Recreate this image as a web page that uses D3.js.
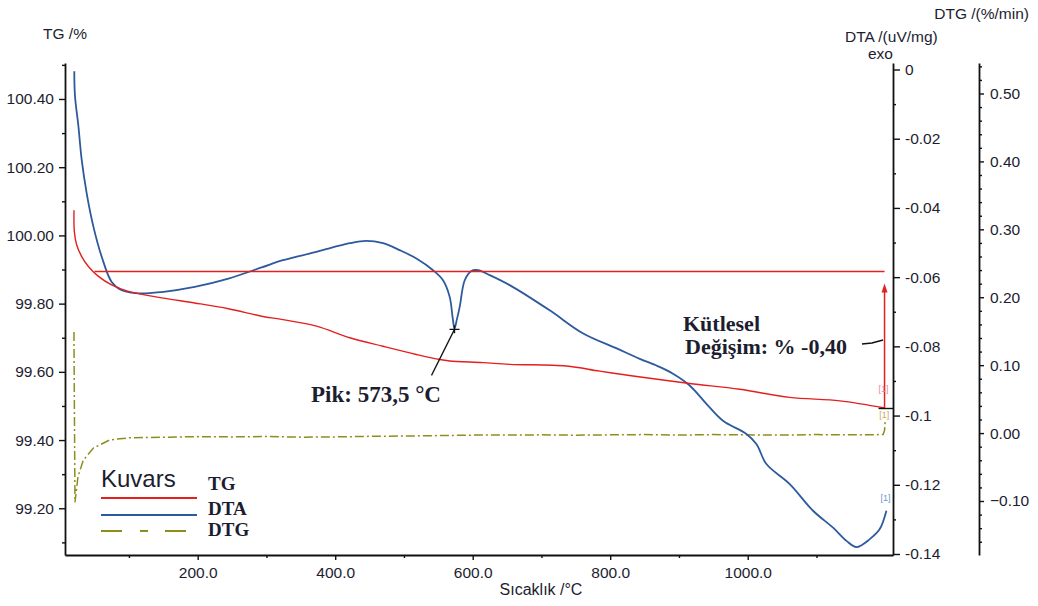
<!DOCTYPE html>
<html>
<head>
<meta charset="utf-8">
<script src="https://cdn.jsdelivr.net/npm/d3@7/dist/d3.min.js"></script>
<style>
  html, body { margin: 0; padding: 0; background: #fff; }
  svg { display: block; }
  .sans { font-family: "Liberation Sans", Arial, sans-serif; }
  .serif { font-family: "Liberation Serif", "Times New Roman", serif; }
</style>
</head>
<body>
<svg id="chart" width="1038" height="606"></svg>
<script>
// Thermal analysis of quartz (Kuvars): TG, DTA and DTG against temperature

// TG curve: temperature (°C) and mass (%)
const tgTemp = [20.1, 20.6, 24, 31.3, 41, 55.6, 74.9, 99.2, 147.6, 195.6, 244.7, 293.1, 324, 372.7, 421, 469.5, 518, 552, 566.5, 615, 653.8, 736.3, 784.7, 833.2, 915.6, 988.4, 1061, 1134, 1199];
const tgMass = [100.074, 100.011, 99.972, 99.938, 99.909, 99.880, 99.855, 99.836, 99.817, 99.802, 99.785, 99.763, 99.753, 99.734, 99.700, 99.675, 99.651, 99.636, 99.632, 99.627, 99.622, 99.617, 99.602, 99.588, 99.566, 99.549, 99.525, 99.515, 99.494];

// DTA curve: temperature (°C) and signal (uV/mg), exo up
const dtaTemp = [20.5, 21.5, 26.5, 31.3, 38.5, 48.3, 60.4, 74.9, 89.5, 113.7, 147.6, 195.6, 244.7, 293.1, 324, 372.7, 421.1, 445.4, 469.5, 493.8, 518.1, 542.3, 556.8, 566.5, 571, 573.5, 577, 581.1, 588.4, 598.1, 607.7, 624.7, 653.8, 712, 760, 809.5, 843, 869, 891.3, 915.6, 939.9, 964, 998.1, 1012.6, 1027.2, 1061.1, 1095, 1124.1, 1143.6, 1158.1, 1177.5, 1192, 1201.7];
const dtaSignal = [-0.0005, -0.0076, -0.0164, -0.0261, -0.0357, -0.0454, -0.0541, -0.0614, -0.0638, -0.0647, -0.0643, -0.0628, -0.0604, -0.0572, -0.0551, -0.0527, -0.0502, -0.0495, -0.0502, -0.0522, -0.0546, -0.0580, -0.0609, -0.0657, -0.0720, -0.0748, -0.0722, -0.0686, -0.0609, -0.0582, -0.0580, -0.0594, -0.0623, -0.0696, -0.0762, -0.0806, -0.0836, -0.0857, -0.0879, -0.0913, -0.0966, -0.1015, -0.1053, -0.1082, -0.1140, -0.1198, -0.1275, -0.1324, -0.1362, -0.1380, -0.1357, -0.1328, -0.1275];

// DTG curve: temperature (°C) and rate (%/min)
const dtgTemp = [20, 21.5, 25.9, 33.6, 48.3, 72.3, 100, 150, 200, 250, 300, 350, 400, 450, 500, 550, 600, 650, 700, 750, 800, 850, 900, 950, 1000, 1050, 1100, 1150, 1197, 1199, 1200];
const dtgRate = [0.149, -0.102, -0.064, -0.040, -0.022, -0.010, -0.0070, -0.0062, -0.0052, -0.0056, -0.0050, -0.0060, -0.0056, -0.0048, -0.0044, -0.0037, -0.0030, -0.0030, -0.0026, -0.0031, -0.0026, -0.0022, -0.0030, -0.0022, -0.0026, -0.0030, -0.0022, -0.0026, -0.0022, 0.004, 0.019];

// Axis ticks
const tempTicks = [200, 400, 600, 800, 1000];
const tempMinorTicks = [100, 300, 500, 700, 900, 1100];
const tgTicks = [99.2, 99.4, 99.6, 99.8, 100.0, 100.2, 100.4];
const tgMinorTicks = [99.1, 99.3, 99.5, 99.7, 99.9, 100.1, 100.3, 100.5];
const dtaTicks = [0, -0.02, -0.04, -0.06, -0.08, -0.1, -0.12, -0.14];
const dtaTickLabels = ["0", "-0.02", "-0.04", "-0.06", "-0.08", "-0.1", "-0.12", "-0.14"];
const dtaMinorTicks = [-0.01, -0.03, -0.05, -0.07, -0.09, -0.11, -0.13];
const dtgTicks = [0.5, 0.4, 0.3, 0.2, 0.1, 0.0, -0.1];
const dtgMinorTicks = [0.54, 0.52, 0.48, 0.46, 0.44, 0.42, 0.38, 0.36, 0.34, 0.32, 0.28, 0.26, 0.24, 0.22, 0.18, 0.16, 0.14, 0.12, 0.08, 0.06, 0.04, 0.02, -0.02, -0.04, -0.06, -0.08, -0.12, -0.14, -0.16];

// Annotated results
const peakTemp = 573.5;      // DTA endothermic peak (alpha-beta quartz)
const massChange = -0.40;    // total TG mass change, %

const colors = { tg: "#e3201f", dta: "#2d5a9c", dtg: "#8e8e1c", text: "#1d1d30" };

const svg = d3.select("#chart");
const plot = { left: 65, right: 893, top: 63, bottom: 555 };

const x = d3.scaleLinear().domain([7, 1211.3]).range([plot.left, plot.right]);
const yTG = d3.scaleLinear().domain([99.063, 100.5055]).range([plot.bottom, plot.top]);
const yDTA = d3.scaleLinear().domain([-0.14029, 0.00188]).range([plot.bottom, plot.top]);
const yDTG = d3.scaleLinear().domain([-0.1795, 0.5449]).range([plot.bottom, plot.top]);

const dtgAxisX = 979;

function styleAxis(g, showLine) {
  g.selectAll("text").attr("class", "sans").attr("font-size", 15.5).attr("fill", colors.text);
  g.selectAll("line").attr("stroke", "#111").attr("stroke-width", 1.4);
  g.select(".domain").attr("stroke", showLine ? "#111" : "none").attr("stroke-width", 1.8);
  g.attr("font-family", null);
}

// Temperature axis
svg.append("g").attr("transform", `translate(0,${plot.bottom})`)
  .call(d3.axisBottom(x).tickValues(tempMinorTicks).tickSize(3).tickSizeOuter(0).tickFormat(""))
  .call(g => styleAxis(g, false));
svg.append("g").attr("transform", `translate(0,${plot.bottom})`)
  .call(d3.axisBottom(x).tickValues(tempTicks).tickSize(5).tickSizeOuter(0).tickPadding(7).tickFormat(d3.format(".1f")))
  .call(g => styleAxis(g, true));

// TG axis (left)
svg.append("g").attr("transform", `translate(${plot.left},0)`)
  .call(d3.axisLeft(yTG).tickValues(tgMinorTicks).tickSize(3).tickSizeOuter(0).tickFormat(""))
  .call(g => styleAxis(g, false));
svg.append("g").attr("transform", `translate(${plot.left},0)`)
  .call(d3.axisLeft(yTG).tickValues(tgTicks).tickSize(6).tickSizeOuter(0).tickPadding(5).tickFormat(d3.format(".2f")))
  .call(g => styleAxis(g, true));

// DTA axis (right, on the frame)
svg.append("g").attr("transform", `translate(${plot.right},0)`)
  .call(d3.axisRight(yDTA).tickValues(dtaMinorTicks).tickSize(3).tickSizeOuter(0).tickFormat(""))
  .call(g => styleAxis(g, false));
svg.append("g").attr("transform", `translate(${plot.right},0)`)
  .call(d3.axisRight(yDTA).tickValues(dtaTicks).tickSize(7).tickSizeOuter(0).tickPadding(5)
    .tickFormat((d, i) => dtaTickLabels[i]))
  .call(g => styleAxis(g, true));

// DTG axis (far right)
svg.append("g").attr("transform", `translate(${dtgAxisX},0)`)
  .call(d3.axisRight(yDTG).tickValues(dtgMinorTicks).tickSize(3).tickSizeOuter(0).tickFormat(""))
  .call(g => styleAxis(g, false));
svg.append("g").attr("transform", `translate(${dtgAxisX},0)`)
  .call(d3.axisRight(yDTG).tickValues(dtgTicks).tickSize(5).tickSizeOuter(0).tickPadding(6).tickFormat(d3.format(".2f")))
  .call(g => styleAxis(g, true));

// Axis titles
const title = (tx, ty, s, anchor) => svg.append("text").attr("class", "sans")
  .attr("x", tx).attr("y", ty).attr("font-size", 15.5).attr("fill", colors.text)
  .attr("text-anchor", anchor || "start").text(s);
title(43, 39, "TG /%");
title(845, 42, "DTA /(uV/mg)");
title(893, 59, "exo", "end");
title(1029, 19, "DTG /(%/min)", "end");
svg.append("text").attr("class", "sans").attr("x", 541).attr("y", 595)
  .attr("font-size", 16).attr("fill", colors.text).attr("text-anchor", "middle").text("Sıcaklık /°C");

// Curves
const zip = (a, b) => a.map((v, i) => [v, b[i]]);
const tgData = zip(tgTemp, tgMass);
const dtaData = zip(dtaTemp, dtaSignal);
const dtgData = zip(dtgTemp, dtgRate);

const smooth = d3.curveCatmullRom.alpha(0.5);
const plotArea = svg.append("g");

plotArea.append("path").datum(dtgData)
  .attr("fill", "none").attr("stroke", colors.dtg).attr("stroke-width", 1.5)
  .attr("stroke-dasharray", "9,3,2,3")
  .attr("d", d3.line().x(d => x(d[0])).y(d => yDTG(d[1])));

plotArea.append("path").datum(dtaData)
  .attr("fill", "none").attr("stroke", colors.dta).attr("stroke-width", 1.8)
  .attr("d", d3.line().curve(smooth).x(d => x(d[0])).y(d => yDTA(d[1])));

plotArea.append("path").datum(tgData)
  .attr("fill", "none").attr("stroke", colors.tg).attr("stroke-width", 1.4)
  .attr("d", d3.line().curve(smooth).x(d => x(d[0])).y(d => yTG(d[1])));

// Mass change: reference level and arrow
const tgEnd = tgData[tgData.length - 1];
const tgLevel = tgEnd[1] - massChange;
const levelStart = tgData.find(d => d[1] <= tgLevel) || tgData[0];
plotArea.append("line")
  .attr("x1", x(levelStart[0]) - 4).attr("x2", x(tgEnd[0]))
  .attr("y1", yTG(tgLevel)).attr("y2", yTG(tgLevel))
  .attr("stroke", colors.tg).attr("stroke-width", 1.5);

const arrowX = x(tgEnd[0]);
const arrowTip = yTG(tgLevel) + 12;
plotArea.append("line")
  .attr("x1", arrowX).attr("x2", arrowX)
  .attr("y1", yTG(tgEnd[1])).attr("y2", arrowTip + 6)
  .attr("stroke", colors.tg).attr("stroke-width", 1.5);
plotArea.append("path")
  .attr("d", `M${arrowX},${arrowTip} L${arrowX - 3},${arrowTip + 9} L${arrowX + 3},${arrowTip + 9} Z`)
  .attr("fill", colors.tg);
// small end marker from TG end to the frame
plotArea.append("line")
  .attr("x1", arrowX - 6).attr("x2", plot.right)
  .attr("y1", yTG(tgEnd[1]) + 0.5).attr("y2", yTG(tgEnd[1]) + 0.5)
  .attr("stroke", "#111").attr("stroke-width", 1.4);

// Curve end labels
const endLabel = (tx, ty, color) => svg.append("text").attr("class", "sans")
  .attr("x", tx).attr("y", ty).attr("font-size", 9).attr("fill", color)
  .attr("text-anchor", "middle").text("[1]");
endLabel(x(tgEnd[0]) - 1, yTG(tgEnd[1]) - 16, "#e98a9a");
const dtgEnd = dtgData[dtgData.length - 1];
endLabel(x(dtgEnd[0]) - 1, yDTG(dtgEnd[1]) - 2, "#c9a85a");
const dtaEnd = dtaData[dtaData.length - 1];
endLabel(x(dtaEnd[0]) - 1, yDTA(dtaEnd[1]) - 10, "#6f95cf");

// DTA peak marker and label
const peakIdx = dtaTemp.indexOf(peakTemp);
const px = x(peakTemp), py = yDTA(dtaSignal[peakIdx]);
plotArea.append("path")
  .attr("d", `M${px - 5},${py + 1} H${px + 5} M${px},${py - 3} V${py + 5}`)
  .attr("stroke", "#111").attr("stroke-width", 1.4);
plotArea.append("line")
  .attr("x1", px).attr("y1", py + 1).attr("x2", px - 23).attr("y2", py + 47)
  .attr("stroke", "#111").attr("stroke-width", 1.3);
svg.append("text").attr("class", "serif").attr("x", 311).attr("y", 402)
  .attr("font-size", 23).attr("font-weight", "bold").attr("fill", colors.text)
  .text(`Pik: ${String(peakTemp).replace(".", ",")} °C`);

// Mass change label
svg.append("text").attr("class", "serif").attr("x", 683).attr("y", 331)
  .attr("font-size", 22).attr("font-weight", "bold").attr("fill", colors.text).text("Kütlesel");
svg.append("text").attr("class", "serif").attr("x", 685).attr("y", 354)
  .attr("font-size", 22).attr("font-weight", "bold").attr("fill", colors.text)
  .text(`Değişim: % ${massChange.toFixed(2).replace(".", ",")}`);
svg.append("path").attr("d", "M862,344 L872,343 L883,340")
  .attr("fill", "none").attr("stroke", "#111").attr("stroke-width", 1.5);

// Legend
const legend = svg.append("g");
legend.append("text").attr("class", "sans").attr("x", 101).attr("y", 487)
  .attr("font-size", 24).attr("fill", colors.text).text("Kuvars");
const legendItems = [
  { name: "TG", color: colors.tg, dash: null, y: 498, ty: 490 },
  { name: "DTA", color: colors.dta, dash: null, y: 515, ty: 515 },
  { name: "DTG", color: colors.dtg, dash: "21,18,8,17", y: 531, ty: 536 }
];
legendItems.forEach(it => {
  legend.append("line").attr("x1", 101).attr("x2", it.dash ? 190 : 197)
    .attr("y1", it.y).attr("y2", it.y)
    .attr("stroke", it.color).attr("stroke-width", 1.8)
    .attr("stroke-dasharray", it.dash);
  legend.append("text").attr("class", "serif").attr("x", 208).attr("y", it.ty)
    .attr("font-size", 19).attr("font-weight", "bold").attr("fill", colors.text).text(it.name);
});
</script>
</body>
</html>
